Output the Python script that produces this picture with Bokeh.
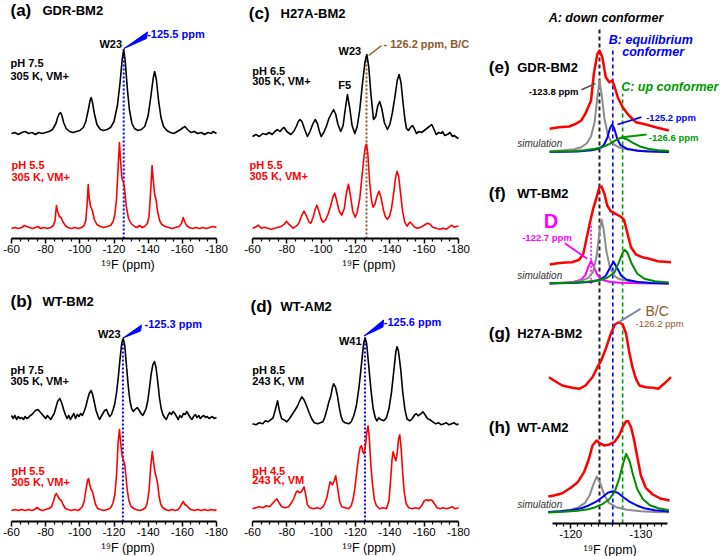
from bokeh.plotting import figure
from bokeh.models import Range1d, Label, FixedTicker, Title
from bokeh.layouts import row, column
from bokeh.embed import file_html
from bokeh.resources import INLINE

# ================= DATA (ppm, intensity) =================
# (a) GDR-BM2
GDR_PH75 = [(-60,0),(-62,1),(-64,-1),(-66,1),(-68,2),(-70,0),(-72,1),(-74,-1),(-76,1),(-78,0),(-80,1),(-82,2),(-84,4),(-86,10),(-87,16),(-88,20),(-88.7,21),(-89.5,18),(-90.5,11),(-92,5),(-94,2),(-96,1),(-98,2),(-100,3),(-102,6),(-103.5,12),(-105,24),(-106,33),(-106.6,36),(-107.3,32),(-108.5,20),(-110,9),(-112,4),(-114,3),(-116,4),(-118,6),(-120,12),(-122,28),(-123.5,50),(-124.8,74),(-125.7,84),(-126.6,72),(-127.8,45),(-129,24),(-130.5,10),(-132,5),(-134,3),(-136,4),(-138,7),(-140,18),(-141.5,36),(-143,56),(-143.8,62),(-144.8,54),(-146,34),(-147.5,16),(-149,7),(-151,3),(-153,1),(-155,0),(-157,2),(-159,4),(-160.5,6),(-161.5,7),(-163,4),(-165,1),(-167,2),(-169,0),(-171,1),(-173,-1),(-175,1),(-177,0),(-178,2),(-180,0)]
GDR_PH55 = [(-60,0),(-62,1),(-64,0),(-66,1),(-67.5,3),(-69,2),(-70.5,1),(-72,0),(-74,1),(-75.5,2),(-77,0),(-79,1),(-81,0),(-83,1),(-84.5,3),(-85.5,8),(-86.3,23),(-87,17),(-88,12),(-89,11),(-90,7),(-91.5,3),(-93,1),(-95,0),(-97,1),(-99,0),(-101,1),(-102.5,3),(-103.5,8),(-104.3,25),(-104.9,44),(-105.5,30),(-106.3,22),(-107.3,18),(-108.5,9),(-110,4),(-112,2),(-114,1),(-116,2),(-118,3),(-119.5,7),(-120.5,14),(-121.5,30),(-122.5,64),(-123.2,86),(-123.9,66),(-124.7,50),(-125.6,46),(-126.3,38),(-127.2,22),(-128.5,10),(-130,5),(-132,2),(-133.5,1),(-135,3),(-136.5,1),(-138,2),(-139.5,5),(-140.5,12),(-141.5,38),(-142.3,63),(-143,48),(-143.8,34),(-144.7,28),(-145.5,17),(-146.7,8),(-148,4),(-150,2),(-152,1),(-154,0),(-156,1),(-158,2),(-159.5,5),(-160.5,11),(-161.3,7),(-162.5,3),(-164,1),(-166,0),(-168,1),(-170,0),(-172,1),(-174,0),(-176,1),(-178,2),(-180,1)]
# (b) WT-BM2
WTB_PH75 = [(-60,2),(-61,-1),(-62,2),(-63,-2),(-64,1),(-65,-1),(-66,0),(-67,-2),(-68,1),(-69,-1),(-70,0),(-71,2),(-72,3),(-73,5),(-74,7),(-75.5,8),(-77,5),(-78,3),(-79,1),(-80,-1),(-81,2),(-82,0),(-83,-2),(-84,1),(-85,4),(-86,10),(-87,16),(-88.3,19),(-89.5,14),(-90.5,8),(-91.5,3),(-92.5,-1),(-93.5,2),(-94.5,-2),(-95.5,1),(-96.5,4),(-97.5,-1),(-98.5,3),(-99.5,1),(-100.5,4),(-101.5,2),(-102.5,6),(-103.5,11),(-104.5,18),(-105.5,24),(-106.6,27),(-107.5,23),(-108.5,15),(-109.5,7),(-110.5,2),(-111.5,-2),(-112.5,1),(-113.5,4),(-114.5,7),(-115.6,8),(-116.5,4),(-117.5,1),(-118.5,3),(-119.5,8),(-120.5,14),(-121.5,25),(-122.5,40),(-123.5,58),(-124.5,74),(-125.4,79),(-126.3,72),(-127.3,52),(-128.3,32),(-129.3,17),(-130.3,9),(-131.3,6),(-132.3,8),(-133.6,10),(-134.8,7),(-135.8,4),(-136.8,2),(-137.8,5),(-138.8,9),(-139.8,17),(-140.8,30),(-141.8,44),(-142.8,53),(-143.7,56),(-144.6,50),(-145.6,36),(-146.6,20),(-147.6,9),(-148.6,3),(-149.6,0),(-150.6,-2),(-151.6,2),(-152.6,5),(-153.6,3),(-154.6,6),(-155.6,4),(-156.6,1),(-157.6,-2),(-158.6,2),(-159.6,0),(-160.6,4),(-161.6,3),(-162.6,6),(-163.6,3),(-164.6,0),(-165.6,-2),(-166.6,1),(-167.6,3),(-168.6,0),(-169.6,2),(-170.6,-1),(-171.6,1),(-172.6,2),(-173.6,0),(-174.6,1),(-175.6,-1),(-176.6,0),(-177.6,1),(-178.6,-1),(-180,0)]
WTB_PH55 = [(-60,0),(-62,1),(-64,0),(-66,1),(-68,0),(-70,1),(-72,0),(-73.5,1),(-75,3),(-76.5,1),(-78,0),(-80,1),(-82,2),(-83.5,4),(-84.5,9),(-85.5,15),(-86.3,17),(-87.2,14),(-88.2,11),(-89.2,10),(-90.2,6),(-91.5,2),(-93,1),(-95,0),(-97,1),(-99,0),(-100.5,2),(-101.5,4),(-102.5,9),(-103.5,20),(-104.5,30),(-105.1,32),(-105.8,26),(-106.6,21),(-107.4,19),(-108.2,13),(-109.2,6),(-110.5,2),(-112,1),(-114,0),(-116,1),(-117.5,2),(-118.5,4),(-119.5,8),(-120.5,16),(-121.5,36),(-122.4,68),(-123.2,81),(-124,66),(-124.8,54),(-125.6,50),(-126.3,46),(-127,34),(-127.8,20),(-128.7,10),(-130,4),(-131.5,2),(-133,1),(-135,0),(-137,1),(-138.5,3),(-139.5,8),(-140.5,20),(-141.5,44),(-142.4,59),(-143.2,48),(-144,38),(-144.8,33),(-145.6,26),(-146.4,14),(-147.4,6),(-148.5,3),(-150,1),(-152,0),(-154,1),(-156,0),(-157.5,1),(-158.5,3),(-159.5,6),(-160.5,9),(-161.5,6),(-162.5,5),(-163.5,3),(-165,1),(-167,0),(-169,1),(-171,0),(-173,1),(-175,0),(-177,1),(-179,0),(-180,1)]
# (c) H27A-BM2
H27A_PH65 = [(-60,-2),(-62,0),(-64,-2),(-66,1),(-68,0),(-69.7,2),(-71.5,0),(-73,3),(-74.6,5),(-76,3),(-77.5,6),(-78.4,7),(-80,3),(-82.3,0),(-84,3),(-85.5,8),(-86.7,13),(-87.7,15),(-88.8,13),(-90.2,6),(-92,-2),(-93.5,3),(-95,10),(-96.5,15),(-97.8,11),(-99,3),(-100,-2),(-101.5,2),(-103,8),(-104.5,16),(-105.7,20),(-107.2,25),(-108.5,20),(-109.8,10),(-111.4,3),(-112.8,9),(-114,25),(-115.3,40),(-116.6,27),(-118,9),(-119.6,1),(-121,8),(-122.5,25),(-124,50),(-125.5,72),(-126.6,80),(-127.7,68),(-129,40),(-130.5,15),(-131.8,18),(-133,29),(-134.1,33),(-135.3,26),(-136.8,12),(-138.6,5),(-140,10),(-141.5,22),(-143,38),(-144.3,54),(-145.4,60),(-146.5,52),(-147.8,30),(-148.8,15),(-149.7,6),(-150.8,4),(-152,7),(-153.2,9),(-154.5,5),(-155.5,1),(-157,3),(-158.5,2),(-160,4),(-161.5,6),(-163,8),(-164.4,10),(-165.8,5),(-167,0),(-168.5,2),(-170,1),(-170.6,3),(-172,-1),(-173.5,0),(-175,2),(-176.5,-2),(-177.4,-1),(-179,-3),(-180,-4)]
H27A_PH55 = [(-60,0),(-61.5,1),(-63.5,3),(-65,0),(-67,1),(-69,0),(-71,-1),(-73,0),(-75,1),(-77,2),(-78.5,4),(-79.8,7),(-81.2,4),(-83.7,0),(-85.5,2),(-87,5),(-88.5,12),(-90,17),(-91.5,12),(-93,6),(-94,5),(-95.5,12),(-96.5,19),(-97.5,23),(-98.7,17),(-100,9),(-101.1,6),(-102.5,8),(-104,14),(-105.5,22),(-106.8,31),(-107.9,35),(-109,28),(-110.5,17),(-112,13),(-113.5,20),(-114.8,36),(-115.9,44),(-117,33),(-118.4,17),(-119.8,11),(-121,16),(-122.5,30),(-123.8,52),(-125,72),(-125.8,82),(-126.4,84),(-127.2,74),(-128.3,45),(-129.3,28),(-130.2,21),(-131.3,24),(-132.5,32),(-133.7,37),(-134.8,31),(-136.3,18),(-137.5,11),(-138.6,9),(-139.8,12),(-141,20),(-142.3,36),(-143.3,50),(-144.2,57),(-145.1,52),(-146.3,34),(-147.5,16),(-148.7,6),(-150,2),(-151.6,6),(-153,4),(-154.5,1),(-156,0),(-158,1),(-160,3),(-161.9,5),(-163.5,4),(-165,1),(-167,0),(-169,-1),(-171,0),(-173,-1),(-174.5,1),(-176,3),(-177.5,1),(-179,2),(-180,2)]
# (d) WT-AM2
WTA_PH85 = [(-60,0),(-62,-1),(-64,1),(-66,0),(-67.5,3),(-69,2),(-70.5,4),(-72,6),(-73.3,14),(-74.6,23),(-75.8,12),(-77,5),(-78.5,4),(-80,2),(-81.5,5),(-83,9),(-84.5,13),(-86,17),(-87.5,23),(-88.7,27),(-90,24),(-91.5,18),(-93,11),(-94.5,5),(-96,1),(-98,0),(-99.5,1),(-101,2),(-102,6),(-103.5,15),(-104.5,22),(-105.5,27),(-106.5,36),(-107.3,40),(-108.3,37),(-109.5,28),(-110.5,17),(-111.5,8),(-112.5,3),(-114,1),(-116,0),(-117.5,2),(-119,8),(-120.5,18),(-122,36),(-123.5,60),(-124.7,80),(-125.6,86),(-126.5,80),(-127.7,58),(-129,34),(-130.3,15),(-131.5,6),(-132.5,3),(-133.5,6),(-135,4),(-136.5,3),(-138,6),(-139.5,15),(-141,32),(-142.5,56),(-143.5,72),(-144.2,77),(-145,73),(-146.3,55),(-147.5,32),(-148.8,14),(-150,5),(-151.5,3),(-153,5),(-154.5,9),(-155.5,10),(-156.5,8),(-158,10),(-159.3,12),(-160.5,9),(-162,5),(-163.5,4),(-165,2),(-166.8,0),(-168.5,1),(-170,-1),(-171.5,0),(-173,1),(-174.5,-1),(-176,0),(-177.5,1),(-179,-1),(-180,0)]
WTA_PH45 = [(-60,0),(-62,1),(-64,2),(-66,1),(-68,3),(-70,2),(-71.5,5),(-72.5,7),(-74.2,10),(-75.5,6),(-77,2),(-79,1),(-81,2),(-82.3,5),(-84,10),(-85.3,16),(-86.2,18),(-87.3,16),(-88.5,17),(-90,22),(-91,14),(-92,4),(-93.5,1),(-95.5,0),(-97.5,1),(-99.5,0),(-101,2),(-102,5),(-103.3,11),(-104.3,20),(-105.2,27),(-106.6,24),(-107.6,28),(-108.5,33),(-109.5,22),(-110.8,7),(-112,2),(-114,1),(-116,0),(-117.5,3),(-118.5,9),(-119.5,19),(-120.8,38),(-122,55),(-122.8,62),(-123.5,63),(-124.3,57),(-125,55),(-125.7,62),(-126.5,76),(-127.3,83),(-128,72),(-129,42),(-129.9,25),(-131,9),(-132.2,3),(-134,0),(-136,1),(-138,0),(-139.5,8),(-140.5,30),(-141.3,50),(-141.9,57),(-142.7,52),(-143.5,48),(-144.3,56),(-145.1,70),(-145.8,74),(-146.6,60),(-147.5,36),(-148.3,18),(-149.5,5),(-151,1),(-153,0),(-155,1),(-157,0),(-158.5,3),(-160,8),(-161.5,9),(-162.5,8),(-163.5,9),(-164.8,8),(-166,5),(-167.5,1),(-169.5,0),(-171,1),(-173,0),(-175,1),(-176.5,2),(-178,0),(-180,1)]

# right column: experimental (red) and simulated components
E_EXP = [(-117.0,1.7),(-118.3,3.3),(-119.8,4),(-120.7,6.7),(-121.5,10),(-122.1,17),(-122.9,30),(-123.3,57),(-123.8,76.7),(-124.1,80),(-124.5,73.3),(-125.0,53.3),(-125.5,48.3),(-125.9,50),(-126.2,45),(-126.7,33.3),(-127.4,23.3),(-128.3,15),(-129.3,8.3),(-130.7,6),(-132.1,3.3),(-134.0,0)]
E_A = [(-117.0,1),(-119,2),(-120.5,3),(-121.5,5),(-122.3,9),(-122.9,16),(-123.4,30),(-123.8,55),(-124.1,71.7),(-124.4,58),(-124.8,34),(-125.3,17),(-125.9,9),(-126.8,5),(-128,3),(-130,1.5),(-134,0.5)]
E_B = [(-117.0,0.3),(-121,0.8),(-123,2),(-124,3.5),(-124.7,7),(-125.2,14),(-125.6,24),(-125.9,27.7),(-126.2,24),(-126.6,14),(-127.1,7),(-128,3.5),(-129.5,1.5),(-131,0.8),(-134,0.3)]
E_C = [(-117.0,0.5),(-120,1),(-122,2),(-123.5,3.5),(-124.5,5),(-125.5,8),(-126.3,11.5),(-127,14),(-127.4,14.4),(-128,13),(-128.8,9.5),(-129.8,6),(-131,3.5),(-132.5,2),(-134,1.3)]
F_EXP = [(-117.0,0),(-118.1,1.3),(-119.3,2),(-120.2,2.3),(-121.2,4.7),(-121.8,10.7),(-122.2,24),(-122.7,40.7),(-123.2,55.7),(-123.7,67.3),(-124.1,77.3),(-124.4,78),(-124.8,70.7),(-125.2,59),(-125.7,53.3),(-126.4,50.7),(-127.1,48),(-127.6,44.7),(-128.1,30.7),(-128.6,17.3),(-129.3,10),(-130.2,7.3),(-131.2,5.7),(-132.4,3.3),(-134.3,2.3)]
F_A = [(-117.0,0.5),(-120,1.5),(-121.5,3),(-122.5,6),(-123.2,12),(-123.7,28),(-124.1,52),(-124.4,64),(-124.7,54),(-125.1,32),(-125.6,16),(-126.2,8),(-127,4.5),(-128.5,2.5),(-131,1),(-134,0.5)]
F_B = [(-117.0,0.3),(-121,1),(-123,2),(-124.2,4),(-125,8),(-125.6,16),(-126.1,22),(-126.6,16),(-127.2,8),(-128,4),(-129.5,1.7),(-131.5,0.8),(-134,0.3)]
F_C = [(-117.0,0.5),(-120,1),(-122,1.8),(-124,3.5),(-125.2,6),(-126.2,11),(-126.9,22),(-127.4,31),(-127.7,34),(-128.1,31),(-128.7,20),(-129.5,10),(-130.5,5),(-132,2.5),(-134,1.3)]
F_D = [(-117.0,0.5),(-119,1),(-120.5,2),(-121.5,4),(-122.1,9),(-122.5,17),(-122.9,23),(-123.3,17),(-123.8,9),(-124.5,4),(-125.5,2),(-127,1),(-130,0.5),(-134,0.2)]
G_EXP = [(-116.9,13.3),(-117.6,10),(-118.8,5),(-120.2,2.7),(-121.2,1.7),(-122.1,5),(-123.1,13.3),(-123.8,23.3),(-124.3,29.3),(-125.0,41.7),(-125.7,56.7),(-126.3,66),(-126.9,68.3),(-127.4,66),(-127.9,56.7),(-128.3,40),(-128.8,23.3),(-129.3,11.7),(-129.8,5),(-130.7,3.3),(-131.7,2.7),(-132.5,1.7),(-133.3,6.7),(-134.3,13.3)]
H_EXP = [(-116.8,5),(-117.6,6),(-118.8,8.3),(-120.0,13.7),(-121.0,19.3),(-121.9,29.3),(-122.6,42.7),(-123.1,56),(-123.7,61),(-124.1,58.3),(-124.8,56),(-125.5,57),(-126.2,59.3),(-126.9,66),(-127.4,74.3),(-127.9,80.3),(-128.2,80.3),(-128.6,74.3),(-129.0,62.7),(-129.5,44.3),(-130.0,26),(-130.7,13.7),(-131.7,7),(-132.9,2.7),(-134.1,1)]
H_A = [(-116.8,1),(-118.5,2),(-120,3.5),(-121,5.5),(-122,10),(-122.7,18),(-123.2,28),(-123.7,36.7),(-124.2,30),(-124.8,18),(-125.5,10),(-126.5,6),(-128,3.5),(-130,2),(-132,1.3),(-134,1)]
H_B = [(-116.8,1.2),(-118.5,2),(-120,3),(-121.5,5),(-122.5,7.5),(-123.5,11),(-124.5,16),(-125.3,20.5),(-126,22),(-126.7,20.5),(-127.5,16),(-128.5,11),(-129.5,7.5),(-130.5,5),(-132,3),(-134,1.8)]
H_C = [(-116.8,0.8),(-119,1.5),(-121,2.5),(-122.5,4),(-123.5,6),(-124.5,9),(-125.5,14),(-126.3,22),(-126.9,34),(-127.4,48),(-127.9,59.3),(-128.4,52),(-128.9,38),(-129.5,24),(-130.3,14),(-131.3,8),(-132.5,5),(-134,3)]

# conformer reference shifts (ppm) used for the dashed guide lines
SHIFT_A = -124.1
SHIFT_B = -126.0
SHIFT_C = -127.4
SHIFT_D = -122.9

WIDE_MAJOR = [-60, -80, -100, -120, -140, -160, -180]
WIDE_MINOR = [-65, -70, -75, -85, -90, -95, -105, -110, -115, -125, -130, -135, -145, -150, -155, -165, -170, -175]
ZOOM_MAJOR = [-120, -130]
ZOOM_MINOR = [-118, -119, -121, -122, -123, -124, -125, -126, -127, -128, -129, -131, -132, -133]

# ================= STYLE =================
FONT = "Liberation Sans"
RED = "#ff0000"
BLUE = "#0000ff"
GREEN = "#008c00"
DGREEN = "#009900"
GRAY = "#8c8c8c"
MAGENTA = "#ff00ff"
BROWN = "#8b5a2b"


# pixel -> data helpers (annotation placement / ranges only)
def xl(px):
    return -60 - (px - 11) * 120 / 205


def xm(px):
    return -60 - (px - 252) * 120 / 206


def xr(px):
    return -117.4 - (px - 552) * 16.4 / 115


def make_fig(width, height, frame_h, x0, x1, bounds, major, minor, title_px):
    p = figure(width=width, height=height, x_range=Range1d(x0, x1), y_range=Range1d(0, frame_h),
               output_backend="svg", toolbar_location=None, y_axis_location=None,
               min_border_left=0, min_border_right=0, min_border_top=0,
               min_border_bottom=height - frame_h)
    p.outline_line_color = None
    p.xgrid.visible = False
    p.ygrid.visible = False
    ax = p.xaxis[0]
    ax.bounds = bounds
    ax.ticker = FixedTicker(ticks=major, minor_ticks=minor)
    ax.major_label_overrides = {t: str(t) for t in major}
    ax.axis_line_width = 2
    ax.major_tick_line_width = 1.5
    ax.minor_tick_line_width = 1.2
    ax.major_tick_in = 0
    ax.major_tick_out = 5
    ax.minor_tick_in = 0
    ax.minor_tick_out = 3
    ax.major_label_standoff = 1
    ax.major_label_text_font = FONT
    ax.major_label_text_font_size = "11.5px"
    ax.major_label_text_color = "black"
    p.add_layout(Title(text="\u00b9\u2079F (ppm)", align="left", offset=title_px, standoff=0,
                       text_font=FONT, text_font_size="12.5px", text_font_style="normal",
                       text_color="black"), "below")
    return p


def lab(p, x, y, text, color="black", size="11px", style="bold", align="left"):
    p.add_layout(Label(x=x, y=y, text=text, text_color=color, text_font=FONT,
                       text_font_size=size, text_font_style=style,
                       text_align=align, text_baseline="middle"))


def spec(p, pts, offset, color, width=1.6):
    xs = [a for a, b in pts]
    ys = [b + offset for a, b in pts]
    p.line(xs, ys, line_color=color, line_width=width, line_join="round")


def peak_of(pts):
    return max(pts, key=lambda t: t[1])


def wide_panel(xconv, x_left_px, width, top_px, frame_h, height, title_letter, title_name,
               black, red, b_off, r_off, black_lines, red_lines, guide_color, guide_ppm,
               ann_text, ann_color, wedge, peak_name, peak_name_px, title_px):
    p = make_fig(width, height, frame_h, xconv(x_left_px), xconv(x_left_px + width),
                 (-180, -60), WIDE_MAJOR, WIDE_MINOR, title_px)
    Y = lambda py: top_px + frame_h - py
    pk = peak_of(black)
    p.line([guide_ppm, guide_ppm], [0, b_off + pk[1]], line_color=guide_color,
           line_width=2, line_dash="2 2")
    spec(p, black, b_off, "black")
    spec(p, red, r_off, RED)
    lab(p, xconv(title_letter[1]), Y(title_letter[2]), title_letter[0], size="17px")
    lab(p, xconv(title_name[1]), Y(title_name[2]), title_name[0], size="13px")
    for t, px, py in black_lines:
        lab(p, xconv(px), Y(py), t)
    for t, px, py in red_lines:
        lab(p, xconv(px), Y(py), t, color=RED)
    lab(p, xconv(ann_text[1]), Y(ann_text[2]), ann_text[0], color=ann_color)
    if wedge is not None:
        p.patch([xconv(a) for a, b in wedge], [Y(b) for a, b in wedge], color=ann_color)
    lab(p, xconv(peak_name_px[0]), Y(peak_name_px[1]), peak_name, align="right")
    return p, Y


# ----- (a) -----
pa, Ya = wide_panel(xl, 0, 235, 0, 238, 280, ("(a)", 10, 10), ("GDR-BM2", 42, 10),
                    GDR_PH75, GDR_PH55, 105, 10,
                    [("pH 7.5", 10, 62.7), ("305 K, VM+", 10, 75)],
                    [("pH 5.5", 11, 164), ("305 K, VM+", 11, 176.7)],
                    BLUE, -125.7, ("-125.5 ppm", 146.7, 33.3), BLUE,
                    [(123.5, 48), (147, 31.5), (146, 38)], "W23", (121.5, 43), 101)
# ----- (b) -----
pb, Yb = wide_panel(xl, 0, 235, 280, 241, 276, ("(b)", 10, 300.7), ("WT-BM2", 42, 300.7),
                    WTB_PH75, WTB_PH55, 104, 11,
                    [("pH 7.5", 10, 369.3), ("305 K, VM+", 10, 380.7)],
                    [("pH 5.5", 11, 470), ("305 K, VM+", 11, 481)],
                    BLUE, -125.2, ("-125.3 ppm", 144, 323.3), BLUE,
                    [(122.5, 337.5), (141, 324.5), (140, 330.5)], "W23", (120, 333.3), 101)
# ----- (c) -----
pc, Yc = wide_panel(xm, 235, 240, 0, 238, 280, ("(c)", 248.3, 13.3), ("H27A-BM2", 280, 13.3),
                    H27A_PH65, H27A_PH55, 104, 10.3,
                    [("pH 6.5", 251.7, 70), ("305 K, VM+", 251.7, 80.7)],
                    [("pH 5.5", 249, 164), ("305 K, VM+", 249, 175)],
                    BROWN, -126.4, ("- 126.2 ppm, B/C", 383, 43.3), BROWN,
                    None, "W23", (360.7, 50), 107)
pc.line([xm(368.3), xm(381)], [Yc(55), Yc(45)], line_color=BROWN, line_width=1.5)
lab(pc, xm(337.7), Yc(84.3), "F5")
# ----- (d) -----
pd_, Yd = wide_panel(xm, 235, 240, 280, 241, 276, ("(d)", 250, 306), ("WT-AM2", 280, 306),
                     WTA_PH85, WTA_PH45, 97.7, 12.7,
                     [("pH 8.5", 251.7, 369.3), ("243 K, VM", 251.7, 380)],
                     [("pH 4.5", 251.7, 470), ("243 K, VM", 251.7, 479.3)],
                     BLUE, -125.5, ("-125.6 ppm", 383.3, 321.7), BLUE,
                     [(363.5, 335.5), (383, 319.5), (382.5, 326.5)], "W41", (361, 340), 107)

# ----- right column (e)-(h) -----
RH = 523
pr = make_fig(245, 556, RH, xr(475), xr(720), (-133.8, -117.4), ZOOM_MAJOR, ZOOM_MINOR, 108)
Yr = lambda py: RH - py

pr.line([SHIFT_A, SHIFT_A], [0, Yr(26.7)], line_color="#222222", line_width=2, line_dash="4 3")
pr.line([SHIFT_B, SHIFT_B], [0, Yr(46.7)], line_color=BLUE, line_width=1.6, line_dash="4 3")
pr.line([SHIFT_C, SHIFT_C], [0, Yr(93.3)], line_color=DGREEN, line_width=1.6, line_dash="4 3")
pr.line([SHIFT_D, SHIFT_D], [Yr(283.3), Yr(225)], line_color=MAGENTA, line_width=1.6, line_dash="2 2")

E_OFF, E_SIM = 393, 371.3
F_OFF, F_SIM = 259, 239.7
G_OFF = 133
H_OFF, H_SIM = 22, 10.3

for pts, c in ((E_A, GRAY), (E_B, BLUE), (E_C, GREEN)):
    spec(pr, pts, E_SIM, c, 2)
spec(pr, E_EXP, E_OFF, RED, 2.5)
for pts, c in ((F_D, MAGENTA), (F_A, GRAY), (F_B, BLUE), (F_C, GREEN)):
    spec(pr, pts, F_SIM, c, 2)
spec(pr, F_EXP, F_OFF, RED, 2.5)
spec(pr, G_EXP, G_OFF, RED, 2.5)
for pts, c in ((H_A, GRAY), (H_B, BLUE), (H_C, GREEN)):
    spec(pr, pts, H_SIM, c, 2)
spec(pr, H_EXP, H_OFF, RED, 2.5)

lab(pr, xr(605.5), Yr(17), "A: down conformer", size="12.5px", style="bold italic", align="center")
lab(pr, xr(608.3), Yr(39.3), "B: equilibrium", color=BLUE, size="12.5px", style="bold italic")
lab(pr, xr(621.7), Yr(51.7), "conformer", color=BLUE, size="12.5px", style="bold italic")
lab(pr, xr(620.7), Yr(86), "C: up conformer", color=DGREEN, size="12.5px", style="bold italic")

for letter, name, py in (("(e)", "GDR-BM2", 66.7), ("(f)", "WT-BM2", 193.3),
                         ("(g)", "H27A-BM2", 333.3), ("(h)", "WT-AM2", 426.7)):
    lab(pr, xr(488.3), Yr(py), letter, size="17px")
    lab(pr, xr(516.7), Yr(py), name, size="13px")
for py in (143.3, 275, 504):
    lab(pr, xr(516.7), Yr(py), "simulation", color="#333333", size="10px", style="italic")

lab(pr, xr(528.3), Yr(90.7), "-123.8 ppm", size="9.5px")
pr.line([xr(581), xr(595)], [Yr(89.3), Yr(83)], line_color="#555555", line_width=1.5)
lab(pr, xr(645.7), Yr(116.7), "-125.2 ppm", color=BLUE, size="9.5px")
pr.line([xr(617), xr(641)], [Yr(124), Yr(116.7)], line_color=BLUE, line_width=1.8)
lab(pr, xr(648.3), Yr(137.3), "-126.6 ppm", color=DGREEN, size="9.5px")
pr.line([xr(620), xr(646)], [Yr(137), Yr(134)], line_color=DGREEN, line_width=1.8)
lab(pr, xr(543.3), Yr(220), "D", color=MAGENTA, size="20px")
lab(pr, xr(521.7), Yr(236.7), "-122.7 ppm", color=MAGENTA, size="9.5px")
pr.line([xr(564.3), xr(586.7)], [Yr(242.7), Yr(258.3)], line_color=MAGENTA, line_width=1.8)
lab(pr, xr(645), Yr(310), "B/C", color=BROWN, size="14px", style="normal")
lab(pr, xr(635), Yr(323.3), "-126.2 ppm", color=BROWN, size="9.5px", style="normal")
pr.line([xr(618.3), xr(640)], [Yr(321.7), Yr(308.3)], line_color="#8888aa", line_width=2)

layout = row(column(pa, pb), column(pc, pd_), pr)
open("out.html", "w").write(file_html(layout, INLINE))
